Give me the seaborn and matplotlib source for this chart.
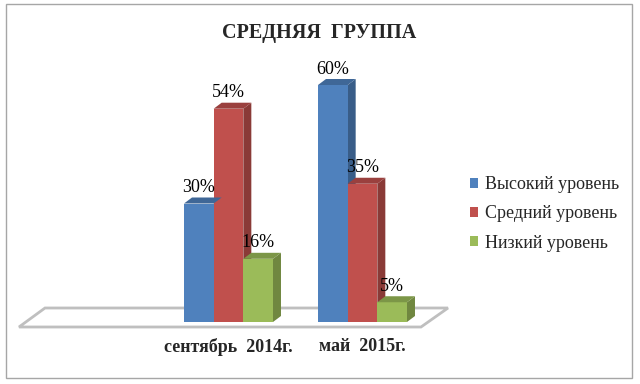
import pandas as pd
import seaborn as sns
import matplotlib.pyplot as plt
from matplotlib.patches import Polygon, Rectangle, Patch
from matplotlib.colors import to_rgb

periods = ["сентябрь  2014г.", "май  2015г."]
levels = ["Высокий уровень", "Средний уровень", "Низкий уровень"]
september = [30, 54, 16]
may = [60, 35, 5]
colors = ["#4F81BD", "#C0504D", "#9BBB59"]

rows = []
for lvl, a, b in zip(levels, september, may):
    rows.append({"period": periods[0], "level": lvl, "value": a})
    rows.append({"period": periods[1], "level": lvl, "value": b})
df = pd.DataFrame(rows)

sns.set_style("white")
plt.rcParams["font.family"] = ["Liberation Serif", "DejaVu Serif"]

W, H = 640, 384
fig = plt.figure(figsize=(6.4, 3.84), dpi=100)

# axes placed in pixel terms
left, right, top, bottom = 19, 448, 60, 327
ax = fig.add_axes([left / W, 1 - bottom / H, (right - left) / W, (bottom - top) / H])

sns.barplot(data=df, x="period", y="value", hue="level", order=periods,
            hue_order=levels, palette=colors, width=0.664, saturation=1,
            ax=ax, legend=False, zorder=3, linewidth=0, edgecolor="none")

px_per_x = 134.0
px_per_y = 3.95
ax.set_xlim(-(228.5 - left) / px_per_x, (right - 228.5) / px_per_x)
ax.set_ylim(-(bottom - 322) / px_per_y, (322 - top) / px_per_y)

# floor
fl = Polygon([(0, 0), ((421 - left) / (right - left), 0), (1, 19 / (bottom - top)),
              ((45 - left) / (right - left), 19 / (bottom - top))],
             closed=True, transform=ax.transAxes, facecolor="white",
             edgecolor="#BFBFBF", lw=2, zorder=1, clip_on=False)
ax.add_patch(fl)

# fake depth for bars
dx = 8 / px_per_x
dy = 6 / px_per_y


def shade(c, f):
    r, g, b = to_rgb(c)
    return (r * f, g * f, b * f)


for i, bar in enumerate(ax.patches[:6]):
    col = bar.get_facecolor()
    x0 = bar.get_x()
    w = bar.get_width()
    h = bar.get_height()
    side = Polygon([(x0 + w, 0), (x0 + w + dx, dy), (x0 + w + dx, h + dy), (x0 + w, h)],
                   closed=True, facecolor=shade(col, 0.72), edgecolor="none", zorder=2.5)
    topf = Polygon([(x0, h), (x0 + dx, h + dy), (x0 + w + dx, h + dy), (x0 + w, h)],
                   closed=True, facecolor=shade(col, 0.8), edgecolor="none", zorder=3.5)
    ax.add_patch(side)
    ax.add_patch(topf)
    ax.annotate(f"{h:.0f}%", (x0 + w / 2, h + dy), xytext=(0, 1),
                textcoords="offset points", ha="center", va="bottom",
                fontsize=13, color="black")

ax.set_xlabel("")
ax.set_ylabel("")
ax.set_yticks([])
ax.tick_params(axis="x", length=0, pad=8)
for lab in ax.get_xticklabels():
    lab.set_fontweight("bold")
    lab.set_fontsize(13)
sns.despine(ax=ax, left=True, bottom=True)
ax.patch.set_alpha(0)

fig.text(319 / W, 1 - 33 / H, "СРЕДНЯЯ  ГРУППА", ha="center", va="center",
         fontsize=14.5, fontweight="bold")

handles = [Patch(facecolor=c, edgecolor="none") for c in colors]
fig.legend(handles, levels, loc="center left", bbox_to_anchor=(454 / W, 1 - 214 / H),
           frameon=False, fontsize=13, handlelength=0.45, handleheight=0.45,
           handletextpad=0.35, labelspacing=0.68)

fig.add_artist(Rectangle((6 / W, 1 - 378 / H), 626 / W, 374 / H, transform=fig.transFigure,
                         fill=False, edgecolor="#A6A6A6", lw=1))

fig.savefig("out.png", dpi=100)
